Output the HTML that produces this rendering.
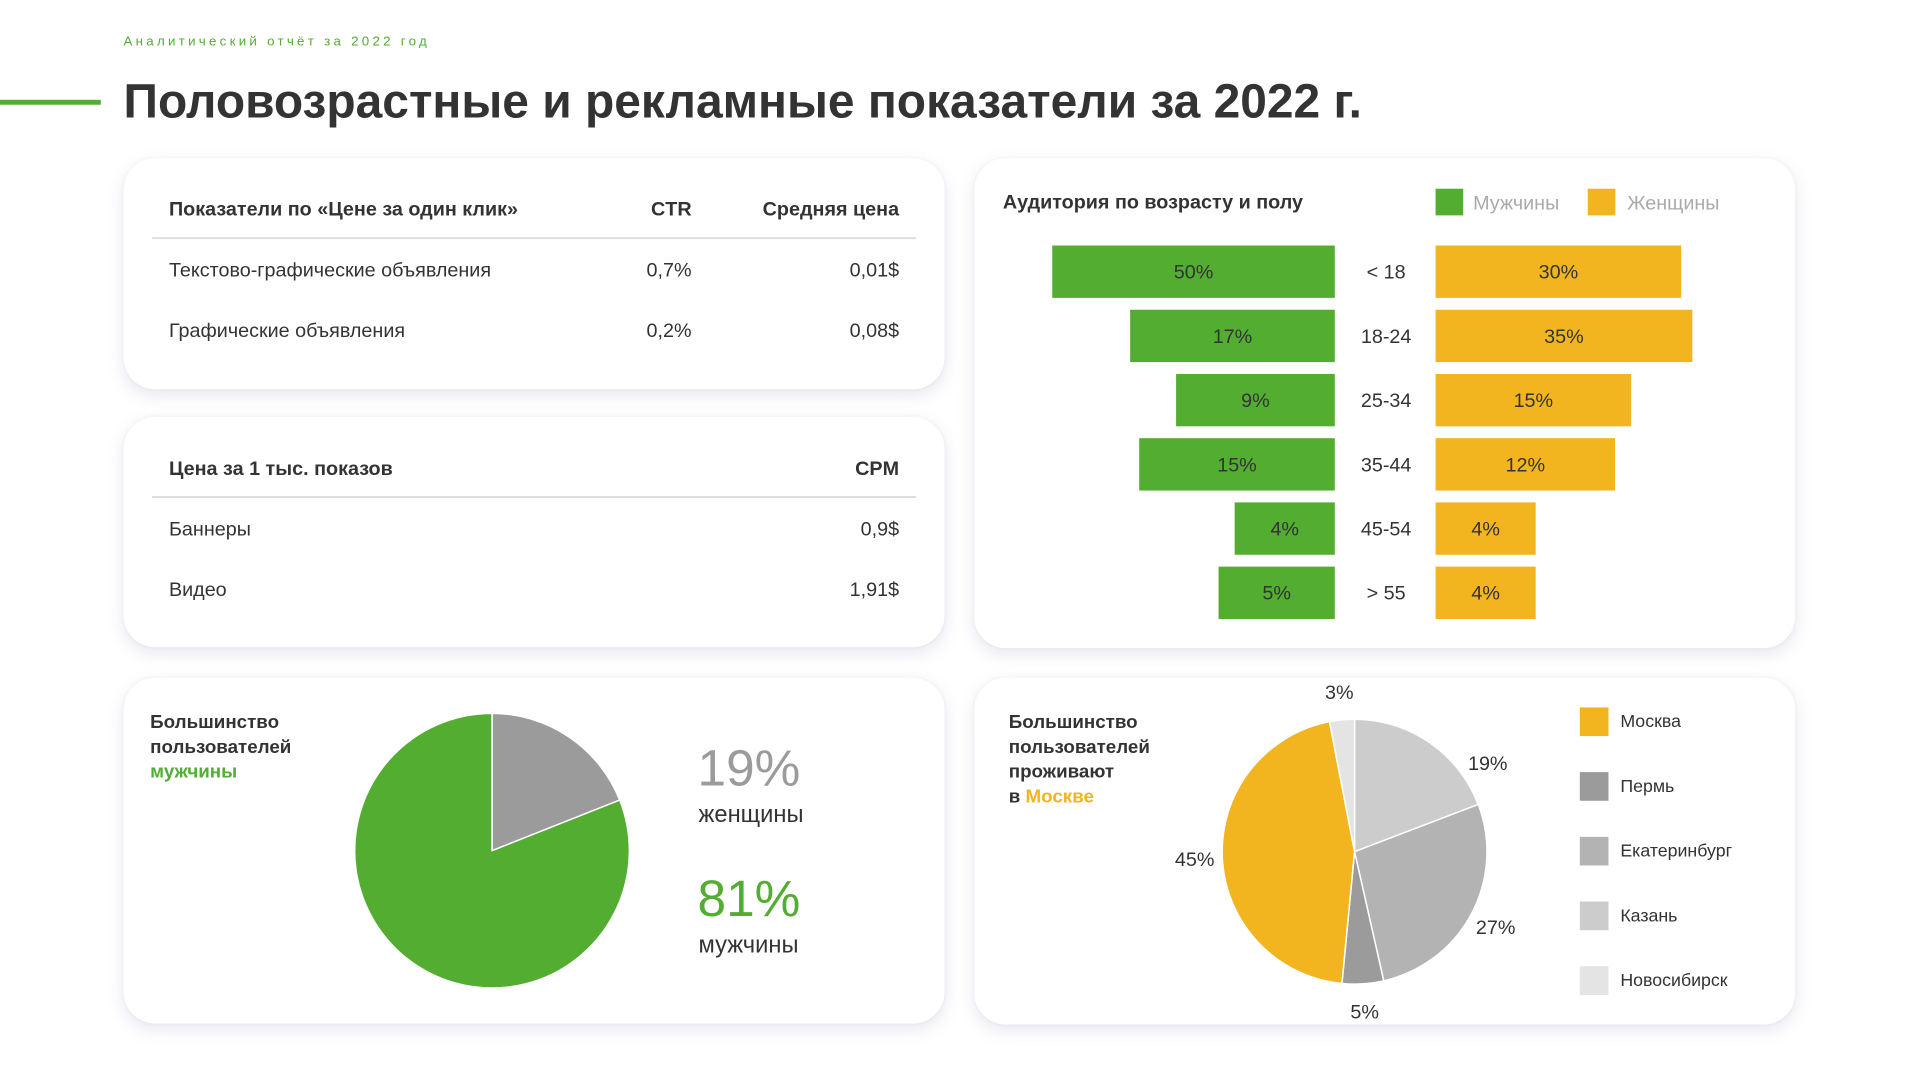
<!DOCTYPE html>
<html><head><meta charset="utf-8">
<style>
*{margin:0;padding:0;box-sizing:border-box}
body{width:1920px;height:1082px;background:#fff;position:relative;overflow:hidden;font-family:"Liberation Sans","DejaVu Sans",sans-serif;color:#333}
#wrap{position:absolute;left:0;top:0;width:1920px;height:1082px;transform:scale(0.988);transform-origin:0 0}
.abs{position:absolute}
.card{position:absolute;background:#fff;border-radius:32px;box-shadow:0 6px 16px rgba(120,130,170,0.18),0 0 4px rgba(120,130,170,0.08)}
.t{position:absolute;font-size:20px;white-space:nowrap;line-height:1}
.b{font-weight:bold}
.r{text-align:right}
.hr{position:absolute;height:2px;background:#ddd}
</style></head><body>
<div id="wrap">
<div class="t" style="left:125px;top:35px;font-size:13.5px;letter-spacing:3.3px;color:#52ad31">Аналитический отчёт за 2022 год</div>
<div class="abs" style="left:0;top:101px;width:102px;height:5px;background:#52ad31"></div>
<div class="t b" style="left:125px;top:79px;font-size:48.5px;color:#333">Половозрастные и рекламные показатели за 2022 г.</div>

<div class="card" style="left:125px;top:160px;width:831px;height:234px"></div>
<div class="t b" style="left:171px;top:202px">Показатели по «Цене за один клик»</div>
<div class="t b r" style="left:600px;width:100px;top:202px">CTR</div>
<div class="t b r" style="left:710px;width:200px;top:202px">Средняя цена</div>
<div class="hr" style="left:154px;top:240px;width:773px"></div>
<div class="t" style="left:171px;top:264px">Текстово-графические объявления</div>
<div class="t r" style="left:600px;width:100px;top:264px">0,7%</div>
<div class="t r" style="left:710px;width:200px;top:264px">0,01$</div>
<div class="t" style="left:171px;top:325px">Графические объявления</div>
<div class="t r" style="left:600px;width:100px;top:325px">0,2%</div>
<div class="t r" style="left:710px;width:200px;top:325px">0,08$</div>

<div class="card" style="left:125px;top:422px;width:831px;height:233px"></div>
<div class="t b" style="left:171px;top:465px">Цена за 1 тыс. показов</div>
<div class="t b r" style="left:710px;width:200px;top:465px">CPM</div>
<div class="hr" style="left:154px;top:502px;width:773px"></div>
<div class="t" style="left:171px;top:526px">Баннеры</div>
<div class="t r" style="left:710px;width:200px;top:526px">0,9$</div>
<div class="t" style="left:171px;top:587px">Видео</div>
<div class="t r" style="left:710px;width:200px;top:587px">1,91$</div>

<div class="card" style="left:986px;top:160px;width:831px;height:496px"></div>
<div class="card" style="left:125px;top:686px;width:831px;height:350px"></div>
<div class="card" style="left:986px;top:686px;width:831px;height:351px"></div>

<div class="t b" style="left:152px;top:719px;font-size:19px;line-height:25px">Большинство<br>пользователей<br><span style="color:#52ad31">мужчины</span></div>
<div class="t" style="left:706px;top:752px;font-size:52px;color:#9b9b9b">19%</div>
<div class="t" style="left:707px;top:813px;font-size:24px">женщины</div>
<div class="t" style="left:706px;top:884px;font-size:52px;color:#52ad31">81%</div>
<div class="t" style="left:707px;top:945px;font-size:24px">мужчины</div>

<div class="t b" style="left:1021px;top:719px;font-size:19px;line-height:25px">Большинство<br>пользователей<br>проживают<br>в <span style="color:#f2b520">Москве</span></div>

<svg id="svg" class="abs" style="left:0;top:0" width="1920" height="1082" font-family="Liberation Sans, sans-serif"></svg>
</div>
<script>
const ageGroups=["< 18","18-24","25-34","35-44","45-54","> 55"];
const menValues=[50,17,9,15,4,5];
const womenValues=[30,35,15,12,4,4];
const genderLabels=["женщины","мужчины"];
const genderValues=[19,81];
const cities=["Москва","Пермь","Екатеринбург","Казань","Новосибирск"];
const cityValues=[45,5,27,19,3];
const cityOrder=[3,2,1,0,4];

const NS="http://www.w3.org/2000/svg";
const svg=document.getElementById('svg');
function mk(tag,attrs,parent){const e=document.createElementNS(NS,tag);for(const k in attrs)e.setAttribute(k,attrs[k]);(parent||svg).appendChild(e);return e;}
const GREEN="#52ad31",ORANGE="#f2b520";

mk('text',{x:1015,y:211,'font-size':20,'font-weight':'bold',fill:'#333'}).textContent="Аудитория по возрасту и полу";
let lg=mk('rect',{x:1453,y:191,width:28,height:27,fill:GREEN});

let lt=mk('text',{x:1491,y:212,'font-size':20,fill:'#aaa'});lt.textContent="Мужчины";

let lg2=mk('rect',{x:1607,y:191,width:28,height:27,fill:ORANGE});

let lt2=mk('text',{x:1647,y:212,'font-size':20,fill:'#aaa'});lt2.textContent="Женщины";


function barW(v){return Math.max(0,73.1*Math.log(v));}
function rowY(i){return 275+i*65;}
const midL=1351,midR=1453,bh=53;
ageGroups.forEach((g,i)=>{
  const cy=rowY(i);
  const wm=barW(menValues[i]);
  const r1=mk('rect',{x:midL-wm,y:cy-bh/2,width:wm,height:bh,fill:GREEN});
  
  
  const t1=mk('text',{x:midL-wm/2,y:cy+7,'font-size':20,fill:'#333','text-anchor':'middle'});t1.textContent=menValues[i]+'%';
  const ww=barW(womenValues[i]);
  const r2=mk('rect',{x:midR,y:cy-bh/2,width:ww,height:bh,fill:ORANGE});
  
  
  const t2=mk('text',{x:midR+ww/2,y:cy+7,'font-size':20,fill:'#333','text-anchor':'middle'});t2.textContent=womenValues[i]+'%';
  const t3=mk('text',{x:1403,y:cy+7,'font-size':20,fill:'#333','text-anchor':'middle'});t3.textContent=g;
  
  
});

function arc(cx,cy,r,a0,a1){
  const p=a=>[cx+r*Math.sin(a),cy-r*Math.cos(a)];
  const [x0,y0]=p(a0),[x1,y1]=p(a1);const large=(a1-a0)>Math.PI?1:0;
  return `M${cx},${cy}L${x0},${y0}A${r},${r} 0 ${large} 1 ${x1},${y1}Z`;
}
{const cx=498,cy=861,r=139;const tot=genderValues.reduce((a,b)=>a+b,0);let a=0;const cols=["#9b9b9b",GREEN];
genderValues.forEach((v,i)=>{const a1=a+v/tot*2*Math.PI;const s=mk('path',{d:arc(cx,cy,r,a,a1),fill:cols[i],stroke:'#fff','stroke-width':1.5});

a=a1;});}

{const cx=1371,cy=862,r=134;const cols=[ORANGE,"#9b9b9b","#b3b3b3","#cccccc","#e4e4e4"];
const tot=cityValues.reduce((a,b)=>a+b,0);let a=0;
cityOrder.forEach(i=>{const v=cityValues[i];const a1=a+v/tot*2*Math.PI;
const s=mk('path',{d:arc(cx,cy,r,a,a1),fill:cols[i],stroke:'#fff','stroke-width':1.5});


let m=(a+a1)/2;const d=162;
if(i===3) m+=0.38;
const t=mk('text',{x:cx+d*Math.sin(m),y:cy-d*Math.cos(m)+7,'font-size':20,fill:'#333','text-anchor':'middle'});t.textContent=v+'%';
a=a1;});
cities.forEach((c,i)=>{const y=730+i*65.5;
const sw=mk('rect',{x:1599,y:y-14,width:29,height:29,fill:cols[i]});


const t=mk('text',{x:1640,y:y+6,'font-size':18,fill:'#333'});t.textContent=c;

});}
</script>
</body></html>
